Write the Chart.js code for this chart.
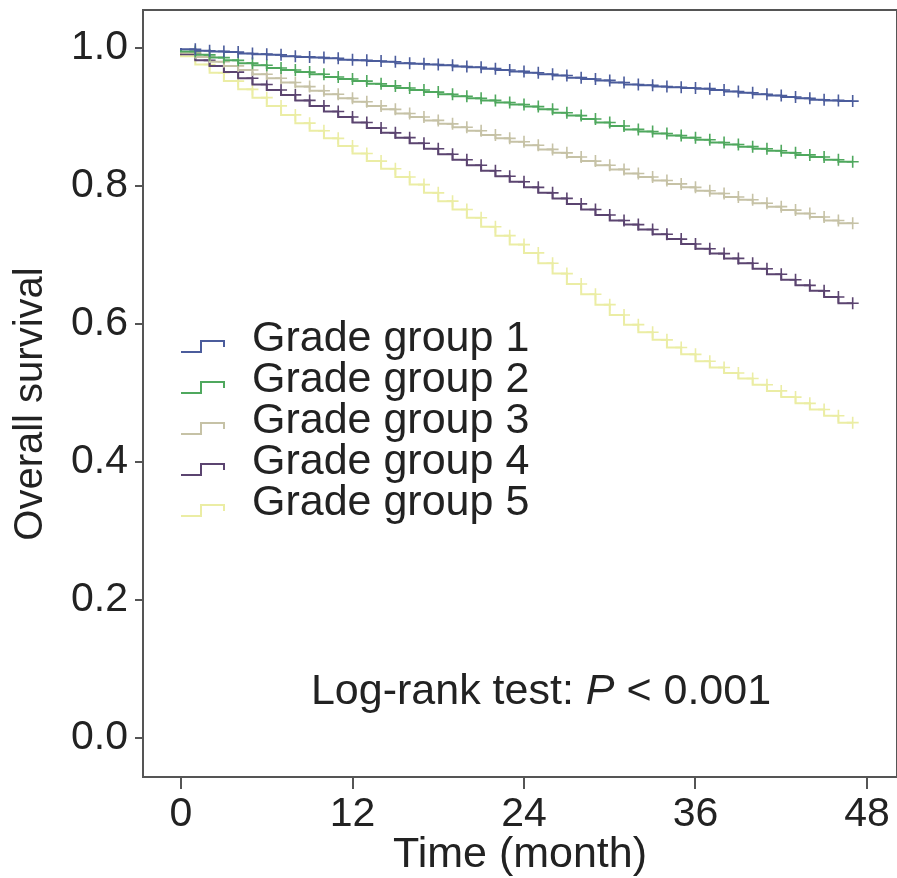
<!DOCTYPE html>
<html>
<head>
<meta charset="utf-8">
<script src="https://cdn.jsdelivr.net/npm/chart.js@4.4.0/dist/chart.umd.min.js"></script>
<style>
  html, body { margin: 0; padding: 0; background: #fff; }
  #wrap { width: 897px; height: 878px; }
</style>
</head>
<body>
<div id="wrap"><canvas id="kmChart" width="897" height="878"></canvas></div>
<script>
// months since diagnosis (one censor mark per month)
const months = [0, 1, 2, 3, 4, 5, 6, 7, 8, 9, 10, 11, 12, 13, 14, 15, 16, 17, 18, 19, 20, 21, 22, 23,
    24, 25, 26, 27, 28, 29, 30, 31, 32, 33, 34, 35, 36, 37, 38, 39, 40, 41, 42, 43, 44, 45, 46, 47];

const groupLabels = ['Grade group 1', 'Grade group 2', 'Grade group 3', 'Grade group 4', 'Grade group 5'];
const groupColors = ['#4b5c9c', '#4fa85e', '#c6c2a6', '#5b4470', '#ebeda4'];

// survival estimates
const grade1 = [1.000, 0.998, 0.996, 0.995, 0.994, 0.992, 0.991, 0.990, 0.988, 0.987, 0.986, 0.985,
    0.983, 0.982, 0.981, 0.980, 0.978, 0.977, 0.976, 0.975, 0.973, 0.972, 0.970, 0.968,
    0.966, 0.964, 0.962, 0.960, 0.957, 0.955, 0.953, 0.950, 0.947, 0.946, 0.944, 0.943,
    0.942, 0.941, 0.939, 0.937, 0.935, 0.933, 0.931, 0.929, 0.927, 0.925, 0.924, 0.923];
const grade2 = [1.000, 0.995, 0.990, 0.986, 0.982, 0.978, 0.975, 0.971, 0.968, 0.965, 0.962, 0.958,
    0.955, 0.952, 0.948, 0.945, 0.942, 0.939, 0.936, 0.933, 0.930, 0.927, 0.924, 0.921,
    0.918, 0.915, 0.911, 0.906, 0.902, 0.897, 0.892, 0.887, 0.882, 0.879, 0.876, 0.873,
    0.870, 0.867, 0.863, 0.860, 0.857, 0.854, 0.851, 0.848, 0.845, 0.842, 0.838, 0.835];
const grade3 = [1.000, 0.993, 0.987, 0.980, 0.974, 0.968, 0.962, 0.956, 0.950, 0.944, 0.938, 0.933,
    0.927, 0.922, 0.916, 0.911, 0.905, 0.900, 0.895, 0.890, 0.885, 0.880, 0.874, 0.869,
    0.864, 0.859, 0.853, 0.848, 0.842, 0.836, 0.830, 0.824, 0.818, 0.813, 0.808, 0.803,
    0.798, 0.793, 0.789, 0.784, 0.780, 0.775, 0.770, 0.765, 0.760, 0.755, 0.750, 0.746];
const grade4 = [1.000, 0.991, 0.982, 0.974, 0.965, 0.956, 0.947, 0.939, 0.932, 0.924, 0.916, 0.908,
    0.900, 0.892, 0.884, 0.877, 0.870, 0.862, 0.854, 0.846, 0.838, 0.830, 0.822, 0.814,
    0.806, 0.798, 0.790, 0.782, 0.774, 0.766, 0.758, 0.750, 0.744, 0.737, 0.730, 0.723,
    0.716, 0.709, 0.702, 0.695, 0.688, 0.680, 0.672, 0.664, 0.656, 0.648, 0.639, 0.630];
const grade5 = [1.000, 0.988, 0.976, 0.964, 0.952, 0.940, 0.928, 0.916, 0.903, 0.891, 0.880, 0.869,
    0.858, 0.847, 0.836, 0.825, 0.813, 0.802, 0.790, 0.778, 0.766, 0.754, 0.741, 0.728,
    0.715, 0.703, 0.688, 0.673, 0.658, 0.643, 0.628, 0.613, 0.599, 0.588, 0.577, 0.566,
    0.556, 0.546, 0.537, 0.529, 0.521, 0.512, 0.503, 0.494, 0.485, 0.476, 0.467, 0.457];

const xTicks = [0, 12, 24, 36, 48];
const yTicks = [0, 0.2, 0.4, 0.6, 0.8, 1.0];

const series = [grade1, grade2, grade3, grade4, grade5];

const datasets = series.map((vals, i) => ({
    label: groupLabels[i],
    data: vals.map((v, j) => ({ x: months[j], y: v })),
    borderColor: groupColors[i],
    backgroundColor: groupColors[i],
    borderWidth: 2,
    stepped: 'after',
    pointStyle: 'cross',
    pointRadius: (c) => (c.dataIndex === 0 ? 0 : 6),
    pointBorderWidth: 1.6,
    pointBorderColor: groupColors[i],
    fill: false,
}));

// scales should not reserve room for half labels
const noPad = (s) => {
    s.paddingTop = 0;
    s.paddingBottom = 0;
    s.paddingLeft = 0;
    s.paddingRight = 0;
};

// frame round the plot area
const framePlugin = {
    id: 'frame',
    afterDraw(chart) {
        const { ctx, chartArea: a } = chart;
        ctx.save();
        ctx.strokeStyle = '#555';
        ctx.lineWidth = 2;
        ctx.strokeRect(a.left, a.top, a.right - a.left, a.bottom - a.top);
        ctx.restore();
    },
};

// legend, log-rank note and y title
const notesPlugin = {
    id: 'notes',
    afterDatasetsDraw(chart) {
        const { ctx } = chart;
        ctx.save();
        ctx.font = '43px "Liberation Sans", Arial, sans-serif';
        ctx.textBaseline = 'middle';
        ctx.textAlign = 'left';
        chart.data.datasets.forEach((ds, i) => {
            const y = 339 + i * 41;
            ctx.strokeStyle = ds.borderColor;
            ctx.lineWidth = 2;
            ctx.beginPath();
            ctx.moveTo(181, y + 13);
            ctx.lineTo(201, y + 13);
            ctx.lineTo(201, y + 2);
            ctx.lineTo(224, y + 2);
            ctx.lineTo(224, y + 8);
            ctx.stroke();
            ctx.fillStyle = '#222';
            ctx.fillText(ds.label, 252, y);
        });

        // Log-rank test: P < 0.001
        const y = 692;
        const normal = '43px "Liberation Sans", Arial, sans-serif';
        const italic = 'italic 43px "Liberation Sans", Arial, sans-serif';
        const parts = [['Log-rank test: ', normal], ['P', italic], [' < 0.001', normal]];
        let total = 0;
        parts.forEach(([t, f]) => { ctx.font = f; total += ctx.measureText(t).width; });
        let x = 541 - total / 2;
        parts.forEach(([t, f]) => {
            ctx.font = f;
            ctx.fillText(t, x, y);
            x += ctx.measureText(t).width;
        });

        // y axis title
        ctx.translate(31, 404);
        ctx.rotate(-Math.PI / 2);
        ctx.textAlign = 'center';
        ctx.font = '40px "Liberation Sans", Arial, sans-serif';
        ctx.fillText('Overall survival', 0, 0);
        ctx.restore();
    },
};

const ctx = document.getElementById('kmChart').getContext('2d');
new Chart(ctx, {
    type: 'line',
    data: { datasets },
    options: {
        responsive: false,
        animation: false,
        layout: { autoPadding: false, padding: { top: 10, right: 0, left: 0, bottom: 0 } },
        plugins: { legend: { display: false }, tooltip: { enabled: false } },
        scales: {
            x: {
                type: 'linear',
                min: -2.66,
                max: 50.1,
                afterBuildTicks: (s) => { s.ticks = xTicks.map((v) => ({ value: v })); },
                afterFit: (s) => { s.height = 101; noPad(s); },
                grid: { drawOnChartArea: false, drawTicks: true, tickLength: 12, color: '#555', lineWidth: 2 },
                border: { color: '#555', width: 2 },
                ticks: {
                    color: '#222',
                    padding: 1,
                    maxRotation: 0,
                    font: { family: '"Liberation Sans", Arial', size: 41 },
                },
                title: {
                    display: true,
                    text: 'Time (month)',
                    color: '#222',
                    padding: { top: 0, bottom: 1 },
                    font: { family: '"Liberation Sans", Arial', size: 43, lineHeight: 1 },
                },
            },
            y: {
                type: 'linear',
                min: -0.0565,
                max: 1.055,
                afterBuildTicks: (s) => { s.ticks = yTicks.map((v) => ({ value: v })); },
                afterFit: (s) => { s.width = 143; noPad(s); },
                grid: { drawOnChartArea: false, drawTicks: true, tickLength: 8, color: '#555', lineWidth: 2 },
                border: { color: '#555', width: 2 },
                ticks: {
                    color: '#222',
                    padding: 7,
                    callback: (v) => v.toFixed(1),
                    font: { family: '"Liberation Sans", Arial', size: 41 },
                },
                title: { display: false },
            },
        },
    },
    plugins: [framePlugin, notesPlugin],
});
</script>
</body>
</html>
